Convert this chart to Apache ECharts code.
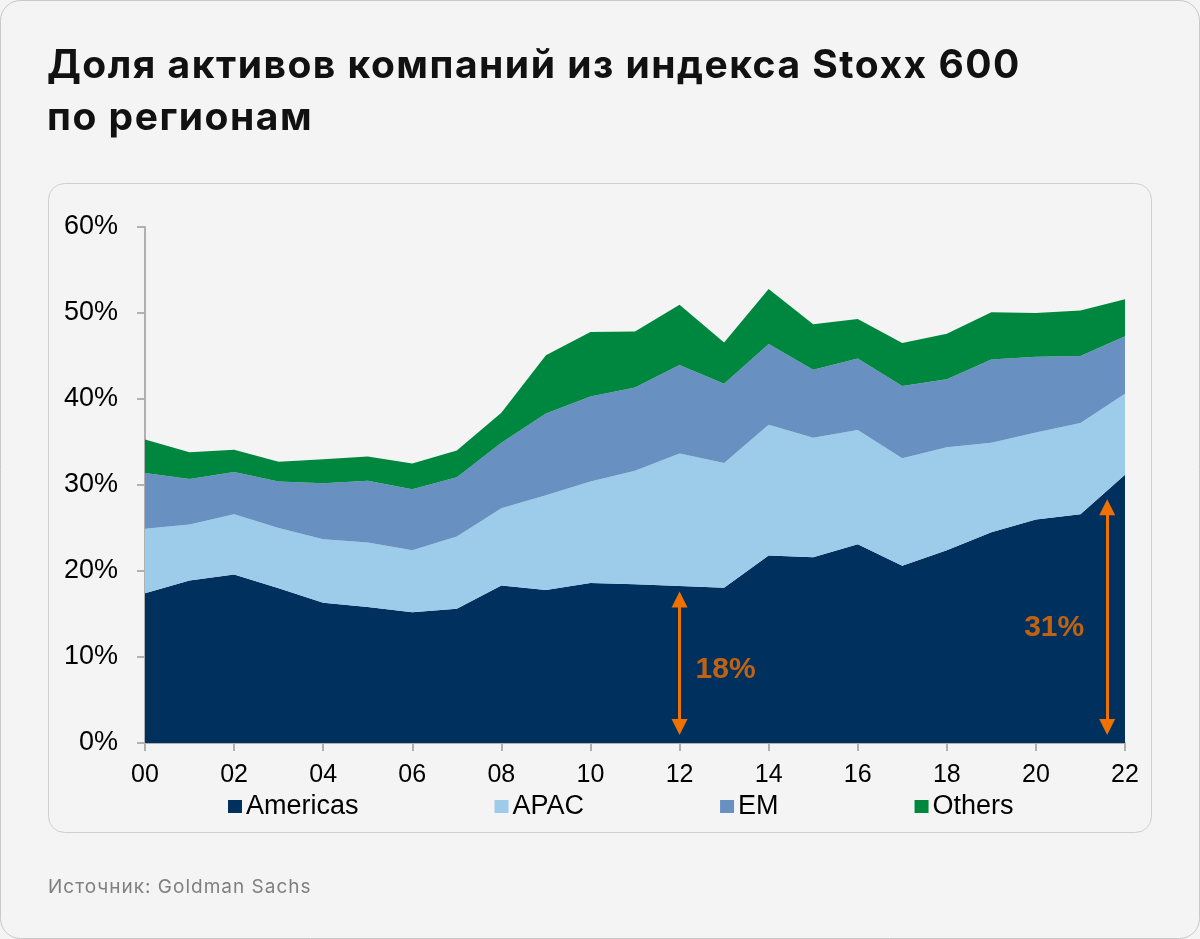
<!DOCTYPE html>
<html>
<head>
<meta charset="utf-8">
<script src="https://cdn.jsdelivr.net/npm/echarts/dist/echarts.min.js"></script>
<style>
html,body{margin:0;padding:0;background:#f4f4f4;}
#wrap{position:relative;width:1200px;height:939px;}
#c{position:absolute;left:0;top:0;width:1200px;height:939px;}
#title{position:absolute;left:47px;top:38px;margin:0;font-family:Inter,sans-serif;font-weight:700;font-size:39px;line-height:52px;letter-spacing:1.5px;color:#111;z-index:2;white-space:nowrap;}
#source{position:absolute;left:48px;top:875px;margin:0;font-family:Inter,sans-serif;font-weight:400;font-size:19px;line-height:24px;letter-spacing:1px;color:#808080;z-index:2;white-space:nowrap;}
</style>
</head>
<body>
<div id="wrap">
<div id="c"></div>
<div id="title">Доля активов компаний из индекса Stoxx 600<br>по регионам</div>
<div id="source">Источник: Goldman Sachs</div>
</div>
<script>
// ---- data (share of Stoxx 600 company assets by region, %) ----
const years = ['00','01','02','03','04','05','06','07','08','09','10','11','12','13','14','15','16','17','18','19','20','21','22'];
const americas = [17.4, 18.9, 19.6, 18.0, 16.3, 15.8, 15.2, 15.6, 18.3, 17.8, 18.6, 18.45, 18.26, 18.06, 21.8, 21.6, 23.1, 20.6, 22.4, 24.5, 26.0, 26.6, 31.2];
const apac     = [7.5, 6.5, 7.0, 7.0, 7.4, 7.5, 7.2, 8.4, 9.0, 11.0, 11.8, 13.2, 15.4, 14.5, 15.2, 13.9, 13.3, 12.5, 12.0, 10.4, 10.1, 10.6, 9.4];
const em       = [6.5, 5.3, 4.9, 5.4, 6.5, 7.2, 7.1, 6.9, 7.6, 9.5, 9.9, 9.7, 10.3, 9.2, 9.4, 7.9, 8.3, 8.4, 7.9, 9.7, 8.8, 7.8, 6.7];
const others   = [3.9, 3.1, 2.6, 2.3, 2.8, 2.8, 3.0, 3.1, 3.5, 6.8, 7.5, 6.5, 7.0, 4.8, 6.4, 5.3, 4.6, 5.0, 5.3, 5.5, 5.1, 5.3, 4.3];
const seriesNames = ['Americas', 'APAC', 'EM', 'Others'];
const yTicks = [0, 10, 20, 30, 40, 50, 60];

// annotations: Americas share in 2012 and 2022
const annotLabels = ['18%', '31%'];
const annotYears  = [12, 21.6];      // position on the year scale (index)
const annotFrom   = [1.85, 1.85];    // arrow bottom head centre (%)
const annotTo     = [16.7, 27.4];    // arrow top head centre (%)
const annotLabelY = [8.5, 13.4];     // label height (%)

const colors = ['#00305E', '#9DCBEA', '#6891C1', '#00873F'];
const orange = '#EF7100';
const values = [americas, apac, em, others];

const chart = echarts.init(document.getElementById('c'), null, {renderer: 'canvas'});

const option = {
  animation: false,
  backgroundColor: '#f4f4f4',
  graphic: [
    {type: 'rect', z: -10, silent: true,
     shape: {x: 0.5, y: 0.5, width: 1199, height: 938, r: 20},
     style: {fill: '#f4f4f4', stroke: '#c8c8c8', lineWidth: 1}},
    {type: 'rect', z: -9, silent: true,
     shape: {x: 48.5, y: 183.5, width: 1103, height: 649, r: 16},
     style: {fill: '#f4f4f4', stroke: '#cfcfcf', lineWidth: 1}}
  ],
  legend: {
    data: seriesNames,
    left: 223, top: 788,
    icon: 'rect', itemWidth: 14, itemHeight: 13, itemGap: 136,
    textStyle: {fontFamily: 'Liberation Sans, Arial', fontSize: 27, color: '#000', padding: [0,0,0,-1]},
    selectedMode: false
  },
  grid: {left: 145, right: 75, top: 227, bottom: 196, containLabel: false, outerBoundsMode: 'none'},
  xAxis: [
    {type: 'category', data: years, boundaryGap: false,
     axisLine: {show: true, lineStyle: {color: '#b0b0b0', width: 2}},
     axisTick: {show: true, interval: 1, length: 8, lineStyle: {color: '#b0b0b0', width: 2}},
     axisLabel: {interval: 1, margin: 20, fontFamily: 'Liberation Sans, Arial', fontSize: 25, color: '#000'},
     splitLine: {show: false}},
    {type: 'value', min: 0, max: 22, show: false, gridIndex: 0}
  ],
  yAxis: {
    type: 'value', min: yTicks[0], max: yTicks[yTicks.length - 1], interval: 10,
    axisLine: {show: true, lineStyle: {color: '#b0b0b0', width: 2}},
    axisTick: {show: true, length: 8, lineStyle: {color: '#b0b0b0', width: 2}},
    axisLabel: {formatter: '{value}%', margin: 27, fontFamily: 'Liberation Sans, Arial', fontSize: 27, color: '#000'},
    splitLine: {show: false}
  },
  series: seriesNames.map((n, i) => ({
    name: n, type: 'line', stack: 'total', data: values[i],
    xAxisIndex: 0, yAxisIndex: 0,
    symbol: 'none', showSymbol: false,
    lineStyle: {width: 0, color: colors[i]},
    itemStyle: {color: colors[i]},
    areaStyle: {color: colors[i], opacity: 1},
    emphasis: {disabled: true},
    silent: true
  })).concat([{
    name: 'annotations', type: 'scatter', xAxisIndex: 1, yAxisIndex: 0,
    symbolSize: 0, silent: true, z: 10,
    data: annotYears.map((x, i) => ({
      value: [x, annotLabelY[i]],
      label: {position: i === 0 ? 'right' : 'left', distance: i === 0 ? 16 : 23}
    })),
    label: {show: true, formatter: p => annotLabels[p.dataIndex],
            fontFamily: 'Liberation Sans, Arial', fontWeight: 'bold', fontSize: 30, color: orange},
    markLine: {
      silent: true, symbol: ['triangle', 'triangle'], symbolSize: [16, 16],
      label: {show: false},
      lineStyle: {color: orange, width: 3, type: 'solid'},
      emphasis: {disabled: true},
      data: annotYears.map((x, i) => [{coord: [x, annotFrom[i]]}, {coord: [x, annotTo[i]]}])
    }
  }])
};
chart.setOption(option);
</script>
</body>
</html>
